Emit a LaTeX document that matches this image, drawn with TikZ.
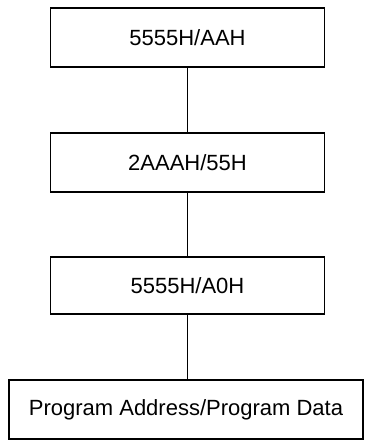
\documentclass[tikz,border=0pt]{standalone}
\usepackage{fontspec}
\setmainfont{Liberation Sans}

\begin{document}
\begin{tikzpicture}[
    x=1pt, y=-1pt,
    font=\fontsize{22}{26}\selectfont,
    every node/.style={inner sep=2pt},
    stepbox/.style={draw, line width=1.8pt, minimum height=59pt, minimum width=274pt},
    link/.style={line width=0.9pt},
]
% ---- frame ----
\useasboundingbox (0,0) rectangle (370,447);

% ---- column x-coordinates ----
\def\xmid{187.5}  % common axis of the boxes

% ---- row y-coordinates ----
\def\yA{37.5}     % first command
\def\yB{162.5}    % second command
\def\yC{285.5}    % third command
\def\yD{409.5}    % program step

% ---- boxes ----
\node[stepbox] (cmdA) at (\xmid,\yA) {5555H/AAH};
\node[stepbox] (cmdB) at (\xmid,\yB) {2AAAH/55H};
\node[stepbox, minimum height=57pt] (cmdC) at (\xmid,\yC) {5555H/A0H};
\node[stepbox, minimum width=354pt] (prog) at (\xmid-1.5,\yD) {Program Address/Program Data};

% ---- connectors ----
\draw[link] (cmdA.south) -- (cmdB.north);
\draw[link] (cmdB.south) -- (cmdC.north);
\draw[link] (cmdC.south) -- (cmdC.south |- prog.north);

\end{tikzpicture}
\end{document}
